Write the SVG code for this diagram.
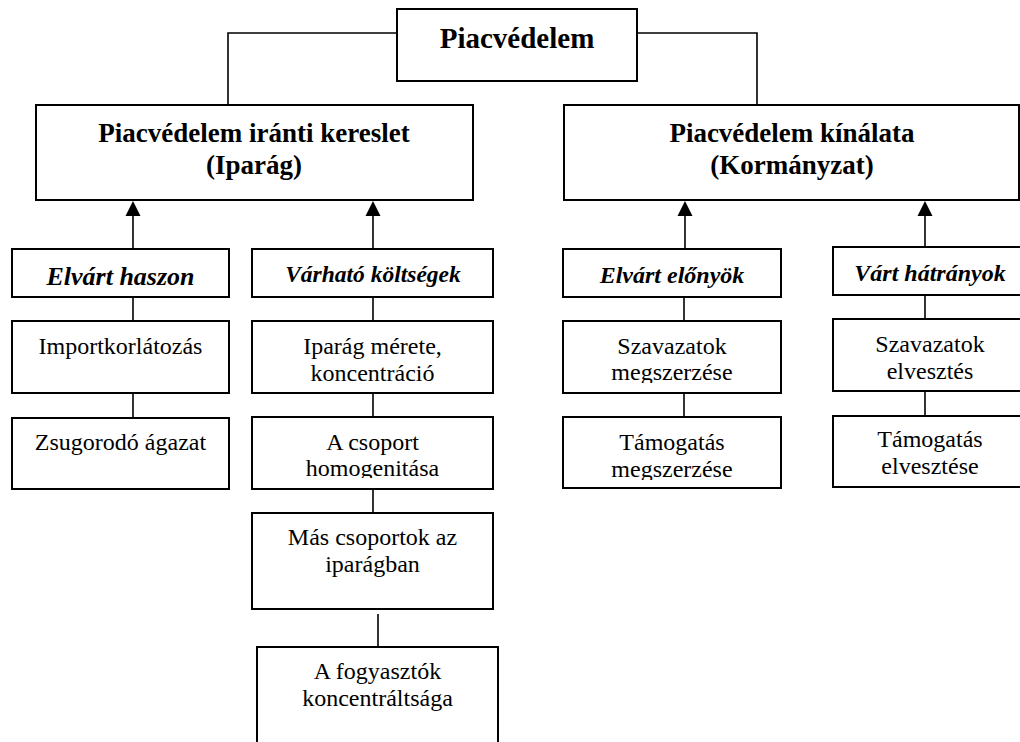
<svg xmlns="http://www.w3.org/2000/svg" width="1020" height="742" viewBox="0 0 1020 742" font-family="Liberation Serif, Times New Roman, serif">
<style>
.box{fill:#fff;stroke:#000;stroke-width:2}
.ln{stroke:#000;stroke-width:1.6;fill:none}
.ah{fill:#000}
text{font-size:24px;text-anchor:middle;fill:#000}
.h{font-weight:bold;font-size:27px}
.ttl{font-weight:bold;font-size:29px}
.bi{font-weight:bold;font-style:italic}
</style>
<defs>
<clipPath id="c1"><rect x="252" y="417" width="241" height="61"/></clipPath>
<clipPath id="c2"><rect x="563" y="321" width="218" height="62"/></clipPath>
<clipPath id="c3"><rect x="563" y="417" width="218" height="63"/></clipPath>
</defs>
<rect width="1020" height="742" fill="#fff"/>
<g id="connectors">
<polyline class="ln" points="397,33 228,33 228,105"/>
<polyline class="ln" points="637,33 757,33 757,105"/>
<line class="ln" x1="133" y1="249" x2="133" y2="212"/>
<polygon class="ah" points="133,201 125.5,216 140.5,216"/>
<line class="ln" x1="373" y1="249" x2="373" y2="212"/>
<polygon class="ah" points="373,201 365.5,216 380.5,216"/>
<line class="ln" x1="685" y1="249" x2="685" y2="212"/>
<polygon class="ah" points="685,201 677.5,216 692.5,216"/>
<line class="ln" x1="925" y1="247" x2="925" y2="212"/>
<polygon class="ah" points="925,201 917.5,216 932.5,216"/>
<line class="ln" x1="133" y1="297" x2="133" y2="321"/>
<line class="ln" x1="133" y1="393" x2="133" y2="418"/>
<line class="ln" x1="373" y1="297" x2="373" y2="321"/>
<line class="ln" x1="373" y1="393" x2="373" y2="417"/>
<line class="ln" x1="373" y1="489" x2="373" y2="513"/>
<line class="ln" x1="378" y1="614" x2="378" y2="647"/>
<line class="ln" x1="684" y1="297" x2="684" y2="321"/>
<line class="ln" x1="684" y1="393" x2="684" y2="417"/>
<line class="ln" x1="925" y1="295" x2="925" y2="319"/>
<line class="ln" x1="925" y1="391" x2="925" y2="416"/>
</g>
<g id="piacvedelem">
<rect class="box" x="397" y="9" width="240" height="72"/>
<text class="ttl" x="517" y="48">Piacvédelem</text>
</g>
<g id="kereslet">
<rect class="box" x="36" y="105" width="437" height="95"/>
<text class="h" x="254" y="142">Piacvédelem iránti kereslet</text>
<text class="h" x="254" y="174">(Iparág)</text>
</g>
<g id="kinalat">
<rect class="box" x="564" y="105" width="455" height="95"/>
<text class="h" x="792" y="142">Piacvédelem kínálata</text>
<text class="h" x="792" y="174">(Kormányzat)</text>
</g>
<g id="elvart-haszon">
<rect class="box" x="12" y="249" width="217" height="48"/>
<text class="bi" x="120.5" y="285" style="font-size:26px">Elvárt haszon</text>
</g>
<g id="varhato-koltsegek">
<rect class="box" x="252" y="249" width="241" height="48"/>
<text class="bi" x="373" y="282" style="font-size:23.5px">Várható költségek</text>
</g>
<g id="elvart-elonyok">
<rect class="box" x="563" y="249" width="218" height="48"/>
<text class="bi" x="672" y="283">Elvárt előnyök</text>
</g>
<g id="vart-hatranyok">
<rect class="box" x="833" y="247" width="200" height="48"/>
<text class="bi" x="930" y="281">Várt hátrányok</text>
</g>
<g id="importkorlatozas">
<rect class="box" x="12" y="321" width="217" height="72"/>
<text x="120.5" y="354">Importkorlátozás</text>
</g>
<g id="zsugorodo">
<rect class="box" x="12" y="418" width="217" height="71"/>
<text x="120.5" y="450">Zsugorodó ágazat</text>
</g>
<g id="iparag-merete">
<rect class="box" x="252" y="321" width="241" height="72"/>
<text x="372.5" y="354">Iparág mérete,</text>
<text x="372.5" y="381">koncentráció</text>
</g>
<g id="csoport-homogenitasa">
<rect class="box" x="252" y="417" width="241" height="72"/>
<g clip-path="url(#c1)">
<text x="372.5" y="450">A csoport</text>
<text x="372.5" y="476">homogenitása</text>
</g>
</g>
<g id="mas-csoportok">
<rect class="box" x="252" y="513" width="241" height="96"/>
<text x="372.5" y="545">Más csoportok az</text>
<text x="372.5" y="572">iparágban</text>
</g>
<g id="fogyasztok">
<rect class="box" x="257" y="647" width="241" height="120"/>
<text x="377.5" y="679">A fogyasztók</text>
<text x="377.5" y="706">koncentráltsága</text>
</g>
<g id="szavazatok-megszerzese">
<rect class="box" x="563" y="321" width="218" height="72"/>
<g clip-path="url(#c2)">
<text x="672" y="354">Szavazatok</text>
<text x="672" y="380">megszerzése</text>
</g>
</g>
<g id="tamogatas-megszerzese">
<rect class="box" x="563" y="417" width="218" height="71"/>
<g clip-path="url(#c3)">
<text x="672" y="450">Támogatás</text>
<text x="672" y="477">megszerzése</text>
</g>
</g>
<g id="szavazatok-elvesztes">
<rect class="box" x="833" y="319" width="200" height="72"/>
<text x="930" y="352">Szavazatok</text>
<text x="930" y="379">elvesztés</text>
</g>
<g id="tamogatas-elvesztese">
<rect class="box" x="833" y="416" width="200" height="71"/>
<text x="930" y="447">Támogatás</text>
<text x="930" y="474">elvesztése</text>
</g>
</svg>
